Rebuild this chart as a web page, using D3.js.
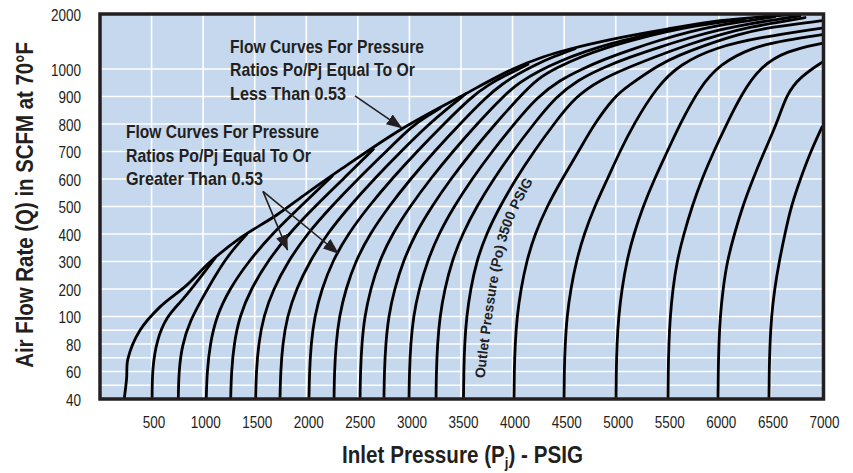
<!DOCTYPE html>
<html>
<head>
<meta charset="utf-8">
<script src="https://cdn.jsdelivr.net/npm/d3@7/dist/d3.min.js"></script>
<style>
  html,body{margin:0;padding:0;background:#ffffff;}
  svg{display:block;}
  text{font-family:"Liberation Sans Narrow","Arial Narrow","Nimbus Sans Narrow","Liberation Sans",sans-serif;fill:#231f20;}
</style>
</head>
<body>
<svg id="chart" width="853" height="473"></svg>
<script>
// ---------------- data ----------------
const xTicks = [500,1000,1500,2000,2500,3000,3500,4000,4500,5000,5500,6000,6500,7000];
const xGrid  = [500,1000,1500,2000,2500,3000,3500,4000,4500,5000,5500,6000,6500];
const yTicks = [40,60,80,100,200,300,400,500,600,700,800,900,1000,2000];
const yTickSlots = [0,1,2,3,4,5,6,7,8,9,10,11,12,14]; // 2000 sits two steps above 1000
const yMinorGrid = [50,70,90];

// critical-flow envelope (Po/Pj <= 0.53)  [inlet psig, scfm]
const envelope = [[235,40],[258,55],[270,69],[388,90],[582,135],[844,215],[1066,298],[1357,385],[1713,469],[2004,548],[2327,633],[2925,782],[3520,905],[4004,1000],[4295,1218],[4557,1364],[4973,1545],[5497,1727],[6011,1878],[6767,2000]];

// outlet-pressure curves  [inlet psig, scfm]
const po500  = [[505,40],[507,62],[550,83],[647,100],[776,150],[902,207],[1115,312]];
const po750  = [[759,40],[764,60],[795,79],[873,97],[999,171],[1131,258],[1260,331],[1420,398]];
const po1000 = [[1030,40],[1038,60],[1067,80],[1128,100],[1255,200],[1439,300],[1667,400],[1944,500],[2250,610]];
const po1250 = [[1267,40],[1274,60],[1299,80],[1352,100],[1463,200],[1623,300],[1828,400],[2083,500],[2358,600],[2650,708]];
const po1500 = [[1509,40],[1515,60],[1537,80],[1584,100],[1681,200],[1822,300],[2007,400],[2242,500],[2500,600],[2774,700],[3030,795],[3180,830],[3296,857]];
const po1750 = [[1745,40],[1751,60],[1771,80],[1814,100],[1903,200],[2033,300],[2200,400],[2417,500],[2658,600],[2917,700],[3190,800],[3364,855],[3548,910]];
const po2000 = [[2026,40],[2031,60],[2046,80],[2080,100],[2150,200],[2252,300],[2404,400],[2603,500],[2828,600],[3073,700],[3333,800],[3606,900],[3762,942],[3926,976],[4091,1027],[4149,1085]];
const po2250 = [[2269,40],[2273,60],[2288,80],[2319,100],[2383,200],[2476,300],[2615,400],[2800,500],[3010,600],[3241,700],[3489,800],[3750,900],[3897,945],[4053,982],[4217,1073],[4411,1236],[4605,1368]];
const po2500 = [[2521,40],[2525,60],[2538,80],[2565,100],[2623,200],[2706,300],[2833,400],[3005,500],[3202,600],[3420,700],[3655,800],[3905,900],[4072,953],[4266,995],[4460,1145],[4702,1318],[4964,1473],[5235,1591],[5507,1718],[5720,1778]];
const po2750 = [[2753,40],[2757,60],[2770,80],[2797,100],[2855,200],[2938,300],[3056,400],[3216,500],[3400,600],[3607,700],[3831,800],[4070,900],[4246,967],[4440,1036],[4654,1218],[4896,1382],[5187,1536],[5478,1673],[5769,1782],[6060,1864],[6253,1906]];
const po3000 = [[2996,40],[3000,60],[3012,80],[3038,100],[3093,200],[3173,300],[3283,400],[3432,500],[3606,600],[3801,700],[4014,800],[4237,898],[4460,960],[4673,1000],[4896,1182],[5138,1345],[5429,1527],[5720,1682],[6011,1800],[6302,1882],[6544,1952]];
const po3250 = [[3258,40],[3261,60],[3272,80],[3295,100],[3342,200],[3411,300],[3513,400],[3652,500],[3816,600],[4001,700],[4204,800],[4423,900],[4634,960],[4867,1018],[5138,1218],[5429,1400],[5720,1573],[6011,1718],[6302,1827],[6593,1909],[6787,1964]];
const po3500 = [[3524,40],[3527,60],[3535,80],[3554,100],[3593,200],[3650,300],[3745,400],[3877,500],[4031,600],[4206,700],[4400,800],[4610,900],[4848,960],[5119,1027],[5429,1255],[5720,1455],[6011,1627],[6302,1764],[6593,1855],[6835,1936]];
const po4000 = [[4014,40],[4016,60],[4025,80],[4043,100],[4081,200],[4135,300],[4216,400],[4333,500],[4480,600],[4640,700],[4790,800],[4990,900],[5106,935],[5429,1091],[5623,1255],[5817,1400],[6200,1640],[6500,1760],[7000,1878]];
const po4500 = [[4499,40],[4501,60],[4510,80],[4527,100],[4564,200],[4617,300],[4693,400],[4795,500],[4920,600],[5040,700],[5175,800],[5397,935],[5623,1091],[5979,1400],[6399,1575],[7000,1745]];
const po5000 = [[5003,40],[5005,60],[5012,80],[5028,100],[5060,200],[5106,300],[5175,400],[5265,500],[5375,600],[5500,700],[5623,800],[5817,935],[6011,1091],[6331,1400],[6650,1527],[7000,1624]];
const po5500 = [[5507,40],[5509,60],[5515,80],[5528,100],[5554,200],[5593,300],[5660,400],[5740,500],[5835,600],[5950,700],[6076,800],[6221,909],[6398,1036],[6657,1333],[7000,1467]];
const po6000 = [[5992,40],[5994,60],[6000,80],[6013,100],[6040,200],[6080,300],[6150,400],[6230,500],[6330,600],[6440,700],[6561,800],[6657,909],[6787,971],[7000,1122]];
const po6500 = [[6486,40],[6488,60],[6495,80],[6510,100],[6540,200],[6585,300],[6640,400],[6700,500],[6790,600],[6890,700],[7000,789]];
const outletCurves = [po500,po750,po1000,po1250,po1500,po1750,po2000,po2250,po2500,po2750,po3000,po3250,po3500,po4000,po4500,po5000,po5500,po6000,po6500];

// baseline path for "Outlet Pressure (Po) 3500 PSIG"
const label3500Path = [[3727,55],[3815,131],[3892,302],[3979,422],[4124,542],[4221,604],[4320,660]];

// annotation arrows [from, to] in data units
const arrows = [
  {from:[2472,902], to:[2925,786]},
  {from:[1580,555], to:[1818,342]},
  {from:[1580,555], to:[2310,330]}
];
const noteLess    = ["Flow Curves For Pressure","Ratios Po/Pj Equal To Or","Less Than 0.53"];
const noteGreater = ["Flow Curves For Pressure","Ratios Po/Pj Equal To Or","Greater Than 0.53"];

// ---------------- layout ----------------
const P = {left:100, right:822, top:14, bottom:399};
const INK = "#231f20";
const svg = d3.select("#chart");

const x = d3.scaleLinear().domain([0,7000]).range([P.left, P.right]);
const slot = (P.bottom - P.top) / 14;
const y = d3.scaleLinear().domain(yTicks).range(yTickSlots.map(s => P.bottom - s*slot));

const defs = svg.append("defs");
defs.append("clipPath").attr("id","plotClip").append("rect")
  .attr("x",P.left).attr("y",P.top).attr("width",P.right-P.left+2).attr("height",P.bottom-P.top);
defs.append("marker").attr("id","ah").attr("viewBox","0 0 16 12").attr("refX",15).attr("refY",6)
  .attr("markerWidth",16).attr("markerHeight",12).attr("orient","auto").attr("markerUnits","userSpaceOnUse")
  .append("path").attr("d","M0,0 L16,6 L0,12 Z").attr("fill",INK);

// background
svg.append("rect").attr("x",P.left).attr("y",P.top).attr("width",P.right-P.left+1.5).attr("height",P.bottom-P.top)
  .attr("fill","#c5d8ee");

// grid
const g = svg.append("g").attr("stroke","#ffffff").attr("stroke-width",1.6);
g.selectAll("line.v").data(xGrid).join("line").attr("class","v")
  .attr("x1",d=>x(d)).attr("x2",d=>x(d)).attr("y1",P.top).attr("y2",P.bottom);
g.selectAll("line.h").data(yTicks.filter(d=>d>40&&d<2000).concat(yMinorGrid)).join("line").attr("class","h")
  .attr("y1",d=>y(d)).attr("y2",d=>y(d)).attr("x1",P.left).attr("x2",P.right+1);

// curves
const envLine = d3.line().x(d=>x(d[0])).y(d=>y(d[1])).curve(d3.curveCatmullRom.alpha(0.5));
const line = d3.line().x(d=>x(d[0])).y(d=>y(d[1])).curve(d3.curveBasis);
const cg = svg.append("g").attr("clip-path","url(#plotClip)").attr("fill","none")
  .attr("stroke","#000").attr("stroke-width",2.8).attr("stroke-linejoin","round").attr("stroke-linecap","round");
cg.selectAll("path.po").data(outletCurves).join("path").attr("class","po").attr("d", d => line(d));
cg.append("path").attr("d", envLine(envelope));

// frame
svg.append("rect").attr("x",P.left).attr("y",P.top).attr("width",P.right+1.5-P.left).attr("height",P.bottom-P.top)
  .attr("fill","none").attr("stroke",INK).attr("stroke-width",3.5);

// axes (digits condensed to the reference's ~7.5px per digit)
const digitW = 7.5;
const xAxis = svg.append("g").attr("transform",`translate(0,${P.bottom})`)
  .call(d3.axisBottom(x).tickValues(xTicks).tickSize(0).tickPadding(18).tickFormat(d3.format("d")));
xAxis.select(".domain").remove();
xAxis.selectAll("text").attr("font-size",16).attr("dx",2).attr("fill",INK)
  .attr("textLength",d=>String(d).length*digitW).attr("lengthAdjust","spacingAndGlyphs");

const yAxis = svg.append("g").attr("transform",`translate(${P.left},0)`)
  .call(d3.axisLeft(y).tickValues(yTicks).tickSize(0).tickPadding(19).tickFormat(d3.format("d")));
yAxis.select(".domain").remove();
yAxis.selectAll("text").attr("font-size",16).attr("dy","0.4em").attr("fill",INK)
  .attr("textLength",d=>String(d).length*digitW).attr("lengthAdjust","spacingAndGlyphs");

// x-axis title, horizontally condensed to the reference width
const xtG = svg.append("g");
const xt = xtG.append("text").attr("x",0).attr("y",0).attr("font-size",23.5).attr("font-weight","bold");
xt.append("tspan").text("Inlet Pressure (P");
xt.append("tspan").attr("font-size",15).attr("dy",5).text("j");
xt.append("tspan").attr("dy",-5).text(") - PSIG");
const xtW = xt.node().getComputedTextLength() || 241;
xtG.attr("transform",`translate(342,463) scale(${241/xtW},1)`);

// y-axis title, condensed the same way
const ytG = svg.append("g");
const yt = ytG.append("text").attr("text-anchor","middle").attr("font-size",24).attr("font-weight","bold")
  .text("Air Flow Rate (Q) in SCFM at 70°F");
const ytW = yt.node().getComputedTextLength() || 326;
ytG.attr("transform",`translate(33,205) rotate(-90) scale(${326/ytW},1)`);

// annotation notes
const lessW = [194,185,116], greaterW = [193,185,137];
noteLess.forEach((t,i)=>{
  svg.append("text").attr("x",230).attr("y",52.7+i*23.4).attr("font-size",19).attr("font-weight","bold")
    .attr("textLength",lessW[i]).attr("lengthAdjust","spacingAndGlyphs").text(t);
});
noteGreater.forEach((t,i)=>{
  svg.append("text").attr("x",126).attr("y",138.3+i*23.2).attr("font-size",19).attr("font-weight","bold")
    .attr("textLength",greaterW[i]).attr("lengthAdjust","spacingAndGlyphs").text(t);
});

// arrows
svg.append("g").selectAll("line").data(arrows).join("line")
  .attr("x1",d=>x(d.from[0])).attr("y1",d=>y(d.from[1]))
  .attr("x2",d=>x(d.to[0])).attr("y2",d=>y(d.to[1]))
  .attr("stroke",INK).attr("stroke-width",1.6).attr("marker-end","url(#ah)");

// 3500 label along the curve
defs.append("path").attr("id","lbl3500")
  .attr("d", d3.line().x(d=>x(d[0])).y(d=>y(d[1])).curve(d3.curveCatmullRom)(label3500Path));
svg.append("text").attr("font-size",14).attr("font-weight","bold")
  .append("textPath").attr("href","#lbl3500")
  .attr("textLength",205).attr("lengthAdjust","spacingAndGlyphs")
  .text("Outlet Pressure (Po) 3500 PSIG");
</script>
</body>
</html>
